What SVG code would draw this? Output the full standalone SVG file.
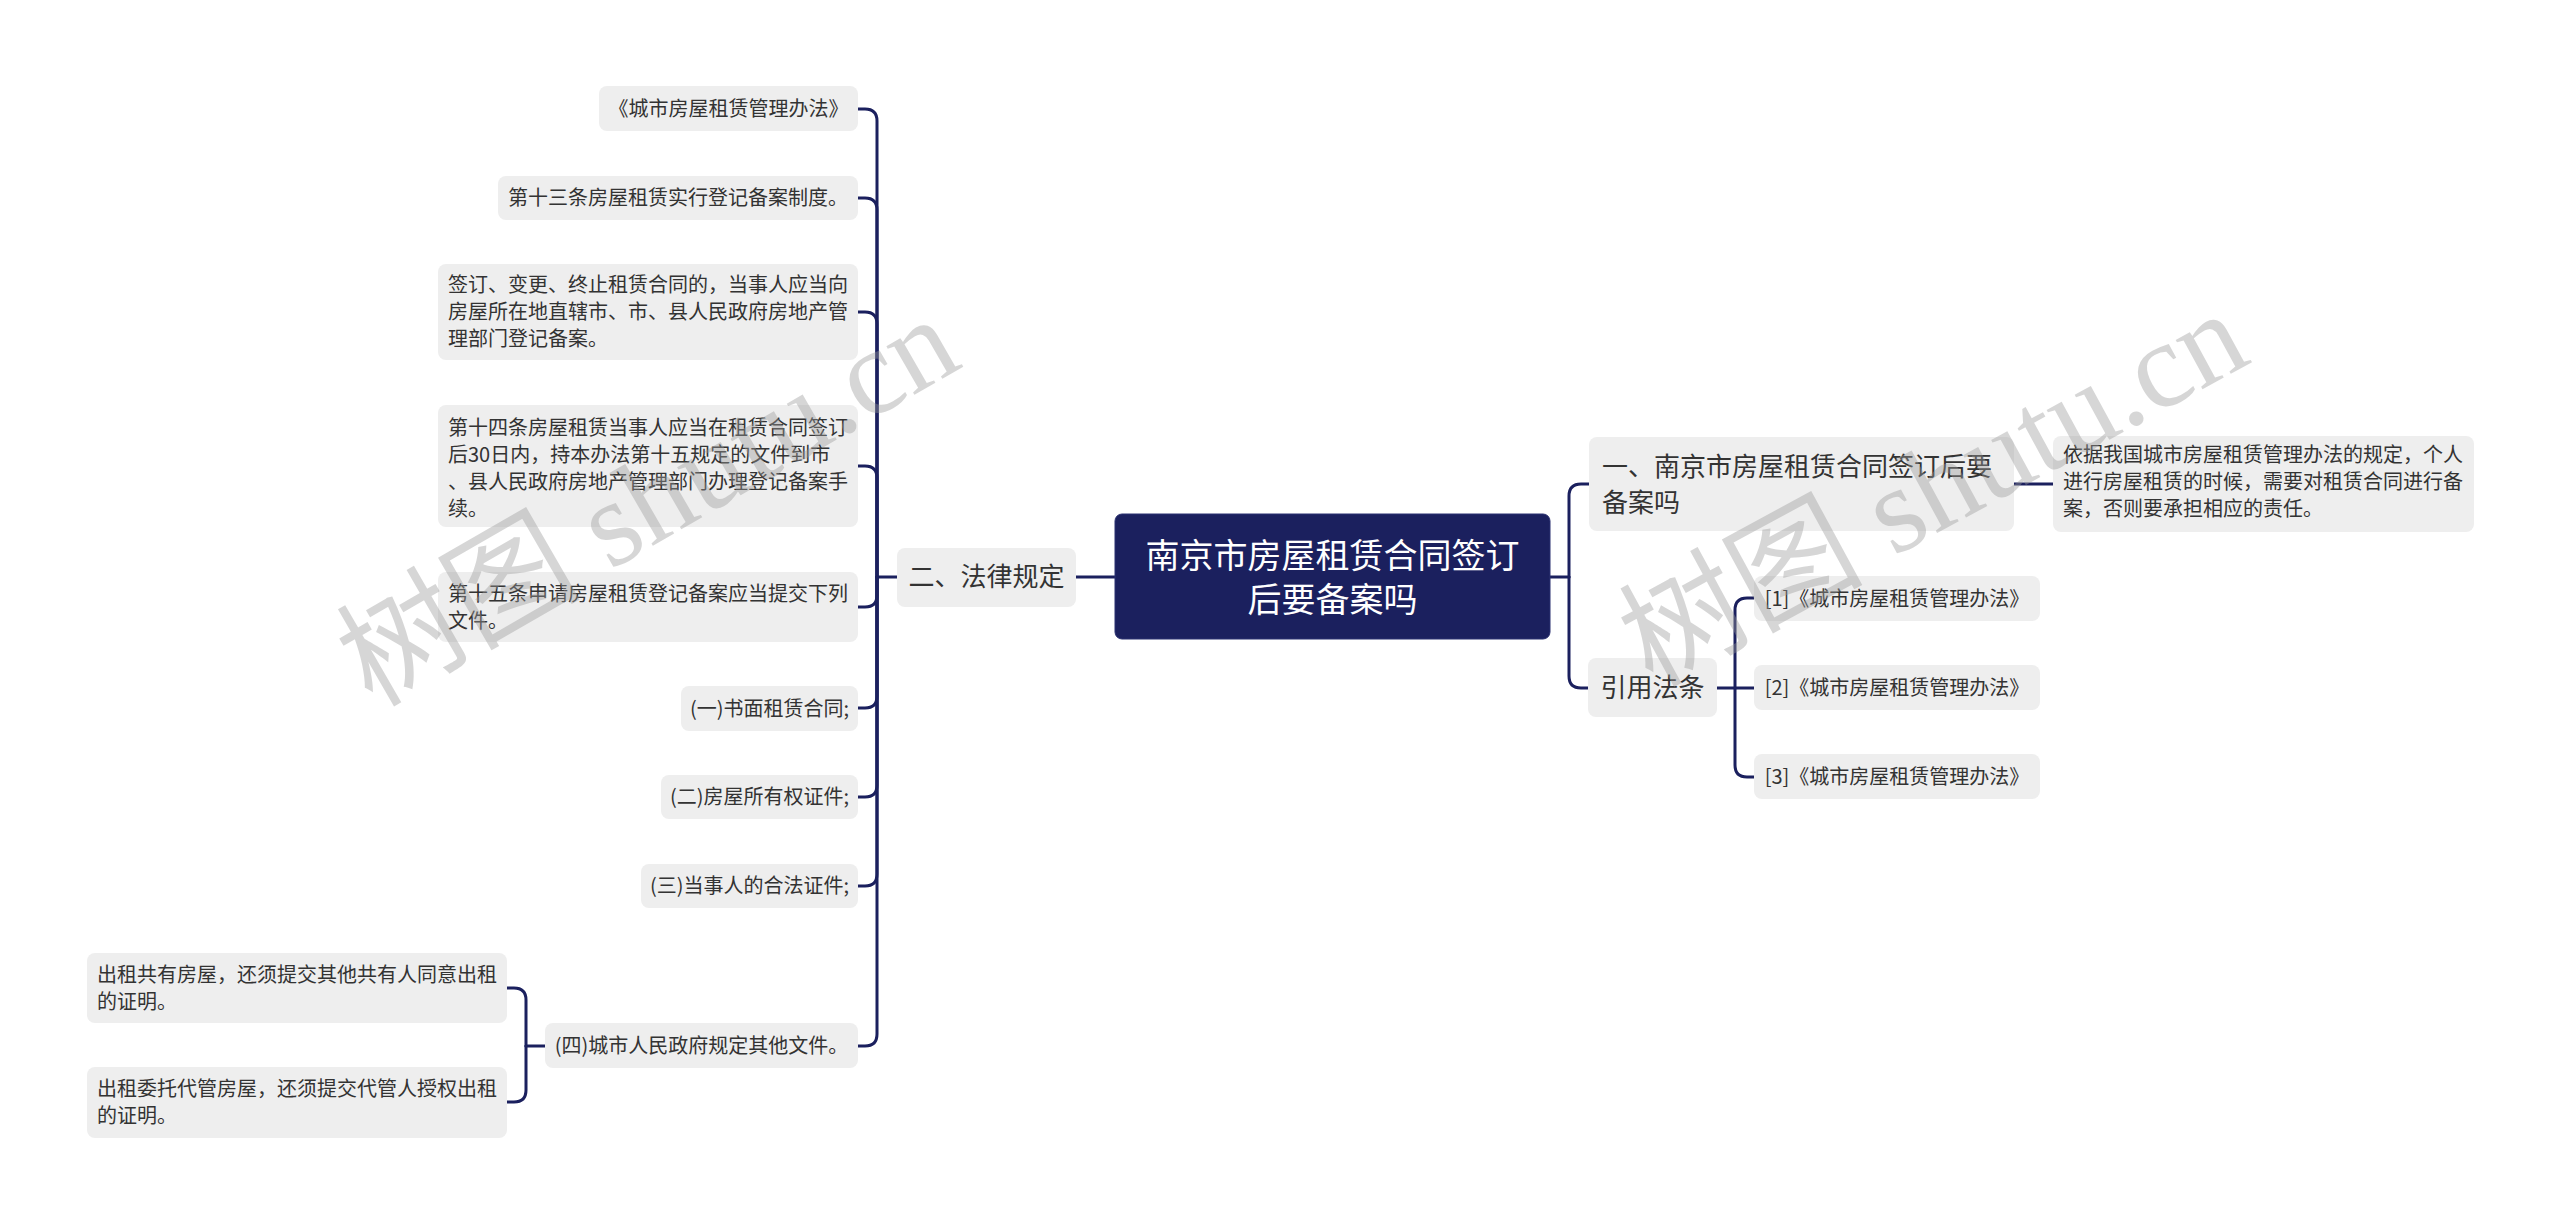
<svg xmlns="http://www.w3.org/2000/svg" width="2560" height="1225" viewBox="0 0 2560 1225">
<style>
.bg{fill:#ffffff}
.n{fill:#eeeeee}
.t{font-family:"Noto Sans CJK SC","Noto Sans",sans-serif;fill:#333333;font-size:20px}
.t1{font-family:"Noto Sans CJK SC","Noto Sans",sans-serif;fill:#333333;font-size:26px}
.c{text-anchor:middle}
.root{fill:#1b205e;stroke:#2a3070;stroke-width:1}
.rt{font-family:"Noto Sans CJK SC","Noto Sans",sans-serif;fill:#ffffff;font-size:34px;text-anchor:middle}
.ln{fill:none;stroke:#1b205e;stroke-width:3;stroke-linecap:round}
.wm{font-family:"Liberation Serif","Noto Sans CJK SC",serif;font-size:122px;fill:#9a9a9a;opacity:0.4}
</style>
<rect class="bg" x="0" y="0" width="2560" height="1225"/>
<g id="connectors">
<path class="ln" d="M1115,577 H1076"/>
<path class="ln" d="M897,577 H877"/>
<path class="ln" d="M877,577 V121 Q877,109 865,109 H858"/>
<path class="ln" d="M877,577 V210 Q877,198 865,198 H858"/>
<path class="ln" d="M877,577 V324 Q877,312 865,312 H858"/>
<path class="ln" d="M877,577 V478 Q877,466 865,466 H858"/>
<path class="ln" d="M877,577 V595 Q877,607 865,607 H858"/>
<path class="ln" d="M877,577 V696 Q877,708 865,708 H858"/>
<path class="ln" d="M877,577 V785 Q877,797 865,797 H858"/>
<path class="ln" d="M877,577 V874 Q877,886 865,886 H858"/>
<path class="ln" d="M877,577 V1034 Q877,1046 865,1046 H858"/>
<path class="ln" d="M545,1046 H526"/>
<path class="ln" d="M526,1046 V1000 Q526,988 514,988 H506"/>
<path class="ln" d="M526,1046 V1090 Q526,1102 514,1102 H506"/>
<path class="ln" d="M1550,577 H1569"/>
<path class="ln" d="M1569,577 V496 Q1569,484 1581,484 H1589"/>
<path class="ln" d="M1569,577 V676 Q1569,688 1581,688 H1588"/>
<path class="ln" d="M2014,484 H2053"/>
<path class="ln" d="M1717,688 H1735"/>
<path class="ln" d="M1735,688 V610 Q1735,598 1747,598 H1754"/>
<path class="ln" d="M1735,688 H1754"/>
<path class="ln" d="M1735,688 V765 Q1735,777 1747,777 H1754"/>
</g>
<g id="root">
<rect class="root" x="1115" y="514" width="435" height="125" rx="7"/>
<text class="rt" x="1332.5" y="568">南京市房屋租赁合同签订</text>
<text class="rt" x="1332.5" y="612">后要备案吗</text>
</g>
<g id="n-falv">
<rect class="n" x="897" y="548" width="179" height="59" rx="8"/>
<text class="t1 c" x="986.5" y="586">二、法律规定</text>
</g>
<g id="n-banfa">
<rect class="n" x="599" y="86" width="259" height="45" rx="8"/>
<text class="t c" x="728.5" y="116">《城市房屋租赁管理办法》</text>
</g>
<g id="n-13">
<rect class="n" x="498" y="176" width="360" height="44" rx="8"/>
<text class="t c" x="678" y="205">第十三条房屋租赁实行登记备案制度。</text>
</g>
<g id="n-qianding">
<rect class="n" x="438" y="264" width="420" height="96" rx="8"/>
<text class="t" x="448" y="292">签订、变更、终止租赁合同的，当事人应当向</text>
<text class="t" x="448" y="319">房屋所在地直辖市、市、县人民政府房地产管</text>
<text class="t" x="448" y="346">理部门登记备案。</text>
</g>
<g id="n-14">
<rect class="n" x="438" y="405" width="420" height="122" rx="8"/>
<text class="t" x="448" y="435">第十四条房屋租赁当事人应当在租赁合同签订</text>
<text class="t" x="448" y="462">后30日内，持本办法第十五规定的文件到市</text>
<text class="t" x="448" y="489">、县人民政府房地产管理部门办理登记备案手</text>
<text class="t" x="448" y="516">续。</text>
</g>
<g id="n-15">
<rect class="n" x="438" y="572" width="420" height="70" rx="8"/>
<text class="t" x="448" y="601">第十五条申请房屋租赁登记备案应当提交下列</text>
<text class="t" x="448" y="628">文件。</text>
</g>
<g id="n-yi">
<rect class="n" x="681" y="686" width="177" height="45" rx="8"/>
<text class="t c" x="769.5" y="716">(一)书面租赁合同;</text>
</g>
<g id="n-er">
<rect class="n" x="661" y="775" width="197" height="44" rx="8"/>
<text class="t c" x="759.5" y="804">(二)房屋所有权证件;</text>
</g>
<g id="n-san">
<rect class="n" x="641" y="864" width="217" height="44" rx="8"/>
<text class="t c" x="749.5" y="893">(三)当事人的合法证件;</text>
</g>
<g id="n-si">
<rect class="n" x="545" y="1023" width="313" height="45" rx="8"/>
<text class="t c" x="701.5" y="1053">(四)城市人民政府规定其他文件。</text>
</g>
<g id="n-gongyou">
<rect class="n" x="87" y="953" width="420" height="70" rx="8"/>
<text class="t" x="97" y="982">出租共有房屋，还须提交其他共有人同意出租</text>
<text class="t" x="97" y="1009">的证明。</text>
</g>
<g id="n-weituo">
<rect class="n" x="87" y="1067" width="420" height="71" rx="8"/>
<text class="t" x="97" y="1096">出租委托代管房屋，还须提交代管人授权出租</text>
<text class="t" x="97" y="1123">的证明。</text>
</g>
<g id="n-nanjing">
<rect class="n" x="1589" y="437" width="425" height="94" rx="8"/>
<text class="t1" x="1602" y="476">一、南京市房屋租赁合同签订后要</text>
<text class="t1" x="1602" y="512">备案吗</text>
</g>
<g id="n-yiju">
<rect class="n" x="2053" y="436" width="421" height="96" rx="8"/>
<text class="t" x="2063" y="462">依据我国城市房屋租赁管理办法的规定，个人</text>
<text class="t" x="2063" y="489">进行房屋租赁的时候，需要对租赁合同进行备</text>
<text class="t" x="2063" y="516">案，否则要承担相应的责任。</text>
</g>
<g id="n-yinyong">
<rect class="n" x="1588" y="658" width="129" height="59" rx="8"/>
<text class="t1 c" x="1652.5" y="697">引用法条</text>
</g>
<g id="n-ref1">
<rect class="n" x="1754" y="576" width="286" height="45" rx="8"/>
<text class="t c" x="1897" y="606">[1]《城市房屋租赁管理办法》</text>
</g>
<g id="n-ref2">
<rect class="n" x="1754" y="665" width="286" height="45" rx="8"/>
<text class="t c" x="1897" y="695">[2]《城市房屋租赁管理办法》</text>
</g>
<g id="n-ref3">
<rect class="n" x="1754" y="754" width="286" height="45" rx="8"/>
<text class="t c" x="1897" y="784">[3]《城市房屋租赁管理办法》</text>
</g>
<g id="watermarks">
<text class="wm" transform="translate(372,708) rotate(-30)">树图 shutu.cn</text>
<text class="wm" transform="translate(1652,688) rotate(-28.5)">树图 shutu.cn</text>
</g>
</svg>
